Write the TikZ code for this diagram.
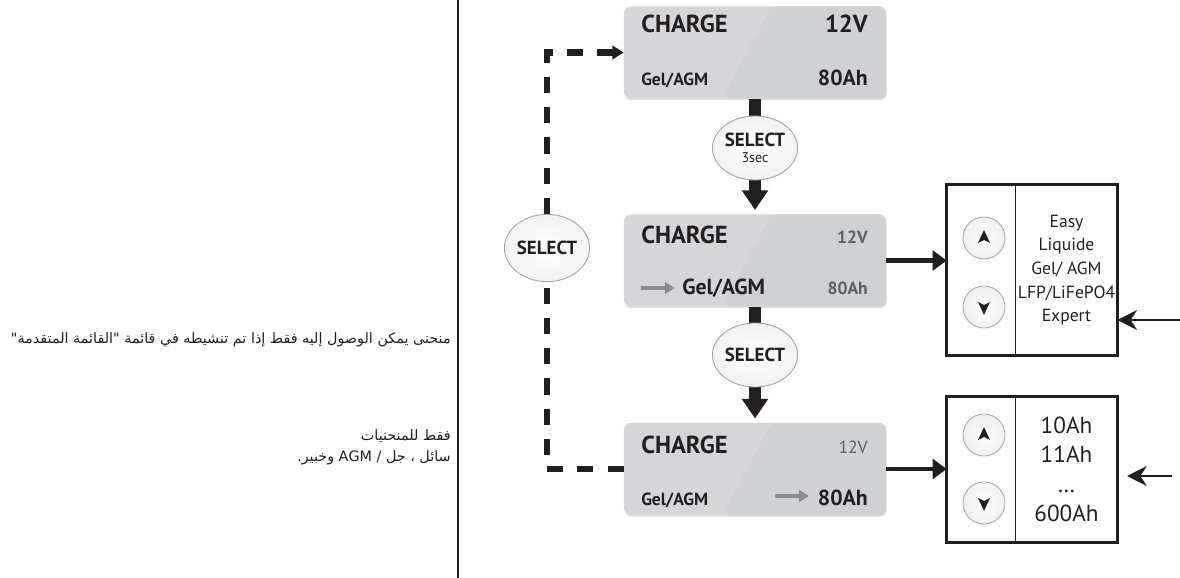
\documentclass[tikz,border=0pt]{standalone}
\usepackage{fontspec}
\setmainfont{PT Sans}
\newfontfamily\arabicfont[Script=Arabic]{DejaVu Sans}
\TeXXeTstate=1
\usepackage{xcolor}
\usetikzlibrary{shapes.geometric, arrows.meta, shadows}

\definecolor{ink}{RGB}{35,31,32}
\definecolor{lcdgray}{RGB}{214,214,216}
\definecolor{lcdshade}{RGB}{208,209,211}
\definecolor{dimtext}{RGB}{95,95,97}
\definecolor{cursorgray}{RGB}{140,140,142}

\tikzstyle{lcd} = [rectangle, rounded corners=5pt,
minimum width=6.55cm,
minimum height=2.3cm,
fill=lcdgray,
drop shadow={shadow xshift=0.5pt, shadow yshift=-1.2pt, opacity=0.25},
path picture={\fill[lcdshade] ([xshift=0.4cm]path picture bounding box.north) -- (path picture bounding box.north east) -- (path picture bounding box.south east) -- ([xshift=-0.8cm]path picture bounding box.south) -- cycle;}]
\tikzstyle{lcdbig} = [inner sep=0pt, text=ink, font=\fontsize{17.5}{20}\selectfont\bfseries]
\tikzstyle{lcdmid} = [inner sep=0pt, text=ink, font=\fontsize{15.5}{18}\selectfont\bfseries]
\tikzstyle{lcdsmall} = [inner sep=0pt, text=ink, font=\fontsize{12.5}{14}\selectfont\bfseries]
\tikzstyle{lcddim} = [lcdsmall, text=dimtext]
\tikzstyle{selbtn} = [ellipse, 
minimum width=1.82cm, 
minimum height=1.6cm, 
inner sep=0pt, 
draw=gray!75, line width=0.6pt, 
inner color=white, outer color=gray!10, 
align=center, text=ink, 
font=\fontsize{13.5}{12}\selectfont\bfseries]
\tikzstyle{keybtn} = [circle, minimum size=1.05cm, inner sep=0pt, 
draw=gray!70, line width=0.6pt, 
inner color=white, outer color=gray!12]
\tikzstyle{cell} = [rectangle, minimum height=4.25cm, inner sep=0pt, align=center, text=ink]
\tikzstyle{flow} = [line width=8.5pt, draw=ink]
\tikzstyle{flowarrow} = [flow, -{Triangle[width=18pt,length=14pt]}, shorten >=3pt]
\tikzstyle{side} = [line width=3.5pt, draw=ink, -{Triangle[width=14pt,length=10pt]}]
\tikzstyle{feed} = [line width=2pt, draw=ink, -{Stealth[width=14pt,length=14pt]}]
\tikzstyle{backline} = [line width=4.3pt, draw=ink, dash pattern=on 11.5pt off 10pt]
\tikzstyle{cursor} = [line width=2.6pt, draw=cursorgray, -{Triangle[width=8pt,length=7pt]}]
\tikzstyle{arabic} = [inner sep=0pt, text=ink, font=\arabicfont\fontsize{10.2}{12}\selectfont]

\begin{document}
\begin{tikzpicture}[x=0.025cm, y=-0.025cm]
\useasboundingbox (0,0) rectangle (1180,578);

\draw[line width=1.5pt, ink] (458,0) -- (458,578);

% notes
\node (note1) [arabic, anchor=east] at (451,340) {\beginR منحنى يمكن الوصول إليه فقط إذا تم تنشيطه في قائمة "القائمة المتقدمة"\endR};
\node (note2) [arabic, anchor=east] at (451,436) {\beginR فقط للمنحنيات\endR};
\node (note3) [arabic, anchor=east] at (451,458) {\beginR سائل ، جل / AGM وخبير.\endR};

% displays
\node (lcd1) [lcd] at (755,52.5) {};
\node (lcd2) [lcd] at (755,260.5) {};
\node (lcd3) [lcd] at (755,469) {};

\node (charge1) [lcdbig, anchor=base west] at (641,33) {CHARGE};
\node (volt1) [lcdbig, anchor=base east] at (868,33) {12V};
\node (type1) [lcdsmall, anchor=base west] at (641,86) {Gel/AGM};
\node (amp1) [lcdmid, anchor=base east] at (868,86) {80Ah};

\node (charge2) [lcdbig, anchor=base west] at (641,243) {CHARGE};
\node (volt2) [lcddim, anchor=base east] at (868,243) {12V};
\node (type2) [lcdmid, anchor=base west] at (682,294) {Gel/AGM};
\node (amp2) [lcddim, anchor=base east] at (868,294) {80Ah};
\coordinate (cur2) at (641,288);

\node (charge3) [lcdbig, anchor=base west] at (641,453) {CHARGE};
\node (volt3) [lcddim, anchor=base east, font=\fontsize{12.5}{14}\selectfont] at (868,453) {12V};
\node (type3) [lcdsmall, anchor=base west] at (641,505) {Gel/AGM};
\node (amp3) [lcdmid, anchor=base east] at (868,505) {80Ah};
\coordinate (cur3) at (775,496);

\draw [cursor] (cur2) -- ++(34,0);
\draw [cursor] (cur3) -- ++(34,0);

% select buttons
\draw [flow] (lcd1.south) -- (755,120);
\draw [flowarrow] (755,175) -- (lcd2.north);
\draw [flow] (lcd2.south) -- (755,330);
\draw [flowarrow] (755,380) -- (lcd3.north);
\node (sel1) [selbtn] at (755,148) {SELECT\\[-1pt]{\fontsize{10}{10}\selectfont\mdseries 3sec}};
\node (sel2) [selbtn] at (755,355) {SELECT};
\node (sel3) [selbtn, minimum width=1.75cm, minimum height=1.68cm] at (547,248) {SELECT};

% back to start
\draw [backline] (lcd3.west) -| (sel3.south);
\draw [backline, -{Triangle[width=9.5pt,length=8pt]}] (sel3.north) |- (lcd1.west);

% choice boxes
\node (keys1) [cell, minimum width=1.725cm] at (981.5,270) {};
\node (list1) [cell, minimum width=2.525cm, font=\fontsize{12.5}{16.8}\selectfont] at (1066.5,270) {Easy\\Liquide\\Gel/ AGM\\LFP/LiFePO4\\Expert};
\node (up1) [keybtn] at (984,238) {};
\node (down1) [keybtn] at (984,307) {};

\node (keys2) [cell, minimum width=1.725cm, minimum height=3.625cm] at (981.5,469.5) {};
\node (list2) [cell, minimum width=2.525cm, minimum height=3.625cm, font=\fontsize{16.5}{21}\selectfont] at (1066.5,469.5) {10Ah\\11Ah\\…\\600Ah};
\node (up2) [keybtn] at (984,435) {};
\node (down2) [keybtn] at (984,503) {};

\foreach \k in {up1,up2}
  \fill[ink, shift={(\k)}] (0,-8) -- (6,5) -- (0,2) -- (-6,5) -- cycle;
\foreach \k in {down1,down2}
  \fill[ink, shift={(\k)}] (0,8) -- (6,-5) -- (0,-2) -- (-6,-5) -- cycle;

\draw[line width=1.8pt, ink] (keys1.north west) rectangle (list1.south east);
\draw[line width=0.7pt, ink] (list1.north west) -- (list1.south west);
\draw[line width=1.8pt, ink] (keys2.north west) rectangle (list2.south east);
\draw[line width=0.7pt, ink] (list2.north west) -- (list2.south west);

\draw [side] (lcd2.east) -- (lcd2.east -| keys1.west);
\draw [side] (lcd3.east) -- (lcd3.east -| keys2.west);

\coordinate (feed1) at (1180,320);
\coordinate (feed2a) at (1172,476);
\coordinate (feed2b) at (1127,476);
\draw [feed] (feed1) -- (list1.east |- feed1);
\draw [feed] (feed2a) -- (feed2b);

\end{tikzpicture}
\end{document}
